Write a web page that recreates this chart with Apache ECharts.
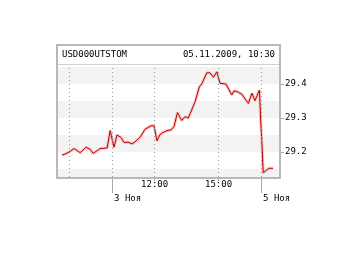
<!DOCTYPE html>
<html><head><meta charset="utf-8">
<script src="https://cdn.jsdelivr.net/npm/echarts@6/dist/echarts.min.js"></script>
<style>html,body{margin:0;padding:0;background:#fff}#c{width:340px;height:255px}</style>
</head><body><div id="c"></div>
<script>
// x: trading hours relative to 3 Nov 10:00 (session start); y: price
const xHours = [-2.35,-2.25,-2.07,-1.78,-1.50,-1.41,-1.22,-1.03,-0.89,-0.70,-0.56,-0.23,-0.09,0.09,0.23,0.42,0.56,0.75,0.94,1.08,1.31,1.55,1.83,1.97,2.11,2.25,2.35,2.58,2.77,2.91,3.07,3.27,3.43,3.58,3.74,3.90,4.10,4.21,4.45,4.60,4.76,4.92,5.07,5.35,5.62,5.73,5.93,6.09,6.40,6.57,6.71,6.92,6.98,7.03,7.10,7.26,7.38,7.56];
const prices = [29.191,29.193,29.198,29.210,29.198,29.194,29.214,29.208,29.196,29.204,29.210,29.212,29.263,29.214,29.250,29.243,29.228,29.229,29.224,29.230,29.243,29.267,29.277,29.277,29.233,29.251,29.256,29.263,29.265,29.275,29.316,29.293,29.304,29.300,29.324,29.348,29.392,29.400,29.433,29.433,29.420,29.436,29.402,29.400,29.368,29.380,29.376,29.370,29.343,29.373,29.351,29.382,29.294,29.235,29.139,29.147,29.152,29.152];
const title = 'USD000UTSTOM';
const stamp = '05.11.2009, 10:30';
const hourTicks = [2, 5];
const hourLabels = ['12:00', '15:00'];
const dayTicks = [0, 7];
const dayLabels = ['3 Ноя', '5 Ноя'];
const gridMarks = [-2, 0, 2, 5, 7];
const yTicks = [29.2, 29.3, 29.4];
const bandRanges = [[29.1265, 29.15], [29.2, 29.25], [29.3, 29.35], [29.4, 29.45]];

const FONT = 'DejaVu Sans Mono';
const data = xHours.map((x, i) => [x, prices[i]]);
const lookup = (vals, labs) => v => { const i = vals.findIndex(t => Math.abs(t - v) < 1e-6); return i >= 0 ? labs[i] : ''; };

const chart = echarts.init(document.getElementById('c'), null, {renderer: 'canvas'});
const xBase = {type: 'value', min: -2.54, max: 7.84, position: 'bottom', axisLine: {show: false, onZero: false}, splitLine: {show: false}};
chart.setOption({
  animation: false,
  backgroundColor: '#fff',
  grid: {left: 58, right: 61, top: 65, bottom: 78},
  xAxis: [
    Object.assign({}, xBase, {
      axisTick: {show: true, customValues: hourTicks, length: 4, lineStyle: {color: '#aaa'}},
      axisLabel: {customValues: hourTicks, formatter: lookup(hourTicks, hourLabels), margin: 3, fontFamily: FONT, fontSize: 9, color: '#000'}
    }),
    Object.assign({}, xBase, {
      axisTick: {show: true, customValues: dayTicks, length: 16, lineStyle: {color: '#aaa'}},
      axisLabel: {customValues: dayTicks, formatter: lookup(dayTicks, dayLabels), align: 'left', margin: 17, padding: [0,0,0,2], fontFamily: FONT, fontSize: 9, color: '#000'}
    })
  ],
  yAxis: {
    type: 'value', position: 'right', min: 29.1265, max: 29.456, scale: true,
    axisLine: {show: false, onZero: false}, splitLine: {show: false},
    axisTick: {show: true, customValues: yTicks, length: 5, lineStyle: {color: '#aaa'}},
    axisLabel: {customValues: yTicks, formatter: v => v.toFixed(1), margin: 6, fontFamily: FONT, fontSize: 9, color: '#000'}
  },
  series: [
    {
      type: 'line', data: data, symbol: 'none', z: 1, silent: true,
      lineStyle: {opacity: 0},
      markArea: {silent: true, itemStyle: {color: '#f3f3f3'}, data: bandRanges.map(r => [{yAxis: r[0]}, {yAxis: r[1]}])},
      markLine: {silent: true, symbol: 'none', label: {show: false}, lineStyle: {color: '#999', type: [1, 3], width: 1}, data: gridMarks.map(v => ({xAxis: v}))}
    },
    {type: 'line', data: data, symbol: 'none', z: 2, silent: true, lineStyle: {color: '#f5c4c4', width: 3}},
    {type: 'line', data: data, symbol: 'none', z: 3, silent: true, lineStyle: {color: '#c00000', width: 1}}
  ],
  graphic: [
    {type: 'rect', z: 10, shape: {x: 57, y: 45, width: 223, height: 133}, style: {stroke: '#b8b8b8', lineWidth: 2, fill: null}},
    {type: 'line', z: 10, shape: {x1: 58, y1: 64.5, x2: 279, y2: 64.5}, style: {stroke: '#cfcfcf', lineWidth: 1}},
    {type: 'text', z: 10, x: 62, y: 55, style: {text: title, font: '9px "DejaVu Sans Mono"', fill: '#000', verticalAlign: 'middle', align: 'left'}},
    {type: 'text', z: 10, x: 275, y: 55, style: {text: stamp, font: '9px "DejaVu Sans Mono"', fill: '#000', verticalAlign: 'middle', align: 'right'}}
  ]
});
</script></body></html>
